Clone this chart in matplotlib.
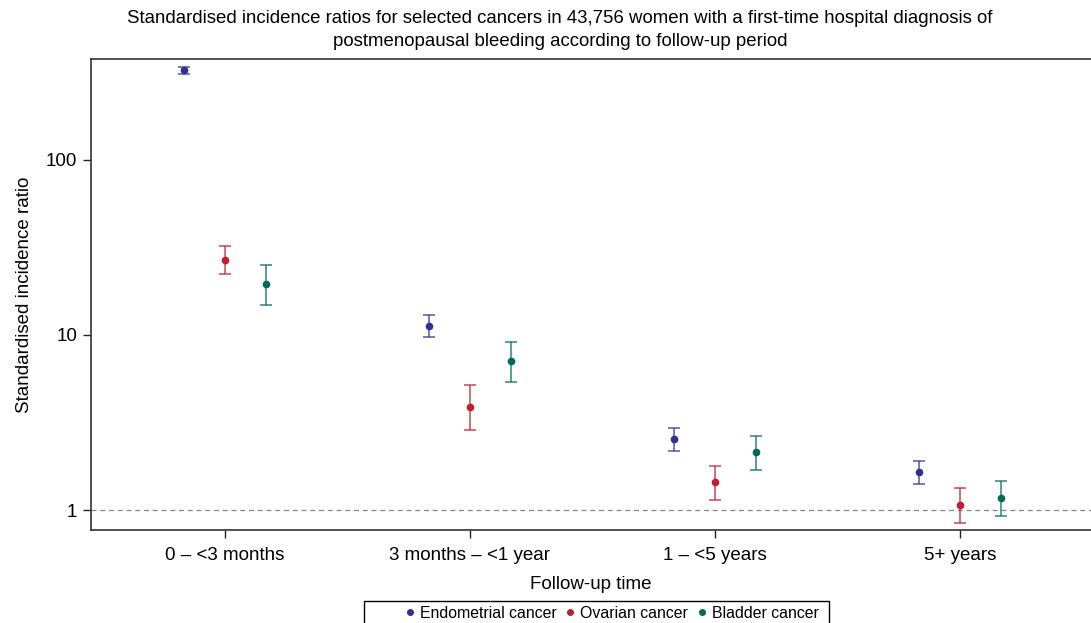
import matplotlib
matplotlib.use("Agg")
import matplotlib.pyplot as plt
from matplotlib.patches import Rectangle
from matplotlib.lines import Line2D
import numpy as np

plt.rcParams['font.family'] = ['Liberation Sans', 'DejaVu Sans']

categories = ["0 – <3 months", "3 months – <1 year", "1 – <5 years", "5+ years"]
series = ["Endometrial cancer", "Ovarian cancer", "Bladder cancer"]
colors = ["#2e3192", "#be1e2d", "#00695c"]

endo = [327, 11.3, 2.54, 1.65]
endo_lo = [310, 9.74, 2.17, 1.41]
endo_hi = [340, 13.0, 2.94, 1.91]

ovar = [26.8, 3.88, 1.45, 1.07]
ovar_lo = [22.3, 2.87, 1.14, 0.84]
ovar_hi = [32.3, 5.18, 1.78, 1.34]

blad = [19.6, 7.1, 2.14, 1.17]
blad_lo = [14.8, 5.39, 1.69, 0.92]
blad_hi = [25.1, 9.12, 2.65, 1.46]

data = [(endo, endo_lo, endo_hi), (ovar, ovar_lo, ovar_hi), (blad, blad_lo, blad_hi)]
offsets = [-0.167, 0.0, 0.167]

fig = plt.figure(figsize=(10.91, 6.23), dpi=100)
ax = fig.add_axes([91/1091, 1-530/623, 1-91/1091, (530-59)/623])

x = np.arange(1, len(categories) + 1)
for (v, lo, hi), off, c, name in zip(data, offsets, colors, series):
    v = np.array(v); lo = np.array(lo); hi = np.array(hi)
    ax.errorbar(x + off, v, yerr=[v - lo, hi - v], fmt='none', ecolor=c,
                elinewidth=1.2, capsize=4.3, capthick=1.2, alpha=0.75, zorder=2)
    ax.plot(x + off, v, 'o', color=c, markersize=4.5, zorder=3)

ax.axhline(1, color='#888888', linestyle=(0, (4, 3)), linewidth=0.9, zorder=1)

ax.set_yscale('log')
ax.set_ylim(0.769, 377)
ax.set_xlim(0.453, 4.535)
ax.set_yticks([1, 10, 100])
ax.set_yticklabels(["1", "10", "100"])
ax.yaxis.set_minor_locator(matplotlib.ticker.NullLocator())
ax.set_xticks(x)
ax.set_xticklabels(categories)
ax.tick_params(axis='both', labelsize=13.5, length=6, width=1, direction='out', colors='#222222')
ax.tick_params(axis='x', pad=6)
ax.tick_params(axis='y', pad=4)
for lab in ax.get_xticklabels() + ax.get_yticklabels():
    lab.set_color('black')
ax.spines['right'].set_visible(False)
for s in ['left', 'top', 'bottom']:
    ax.spines[s].set_linewidth(1.2)
    ax.spines[s].set_color('#333333')

ax.set_xlabel("Follow-up time", fontsize=13.5, labelpad=9)
ax.set_ylabel("Standardised incidence ratio", fontsize=13.5, labelpad=9)

fig.text(560/1091, 1-30/623,
         "Standardised incidence ratios for selected cancers in 43,756 women with a first-time hospital diagnosis of\npostmenopausal bleeding according to follow-up period",
         ha='center', va='center', fontsize=13.4, linespacing=1.4)

handles = [Line2D([], [], marker='o', linestyle='none', color=c, markersize=4) for c in colors]
leg = fig.legend(handles, series, loc='center', bbox_to_anchor=(611/1091, 1-613/623),
                 ncol=3, frameon=False, fontsize=11.4, handletextpad=0.25, columnspacing=0.45,
                 handlelength=0.8)
fig.patches.append(Rectangle((364/1091, -0.02), (829-364)/1091, (623-601)/623 + 0.02,
                             transform=fig.transFigure, fill=False, edgecolor='black',
                             linewidth=1.0))

fig.savefig("out.png", dpi=100)
